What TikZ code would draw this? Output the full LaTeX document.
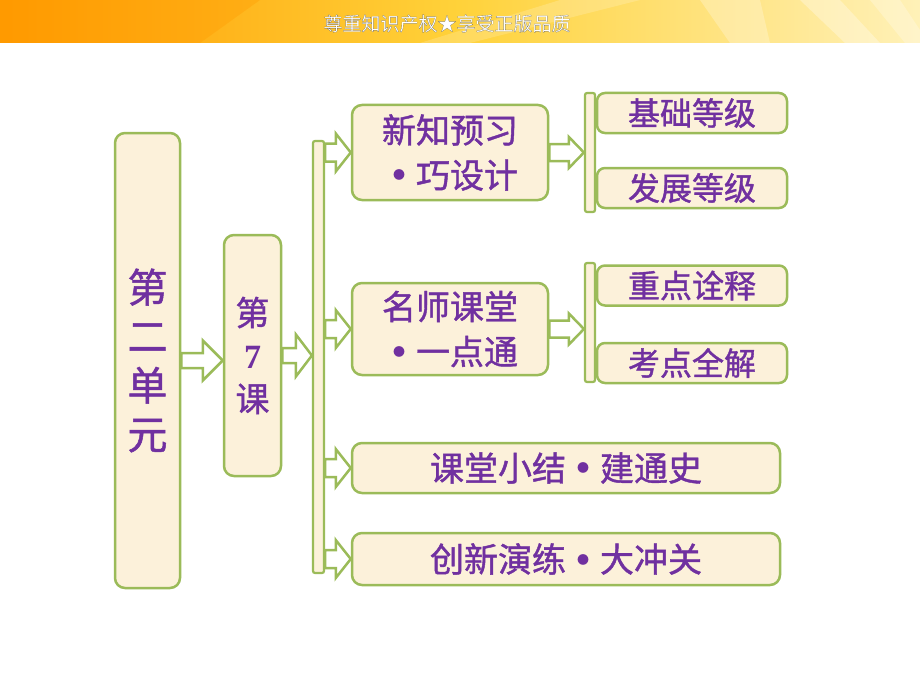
\documentclass[tikz,border=0pt]{standalone}
\usepackage{fontspec}
\usetikzlibrary{calc}
\newfontfamily\cjk[FakeBold=1.2]{Noto Sans CJK SC}
\newfontfamily\cjkplain{Noto Sans CJK SC}
\newfontfamily\cjkb[FakeBold=0.7]{Noto Sans CJK SC}
\newfontfamily\numfont{Liberation Serif}
\definecolor{boxgreen}{HTML}{9BBB59}
\definecolor{boxfill}{HTML}{FCF1DA}
\definecolor{txtpurple}{HTML}{7030A0}
\definecolor{bannerL}{HTML}{FF9A00}
\definecolor{bannerM}{HTML}{FFD23A}
\definecolor{bannerR}{HTML}{FFF1B8}
\newcommand{\bdot}{\makebox[1em]{\raisebox{8pt}{\cjkplain\fontsize{12}{12}\selectfont ●}}}
\tikzset{
  boxnode/.style={draw=boxgreen, line width=2.5pt, fill=boxfill, rounded corners=10pt,
    inner sep=0pt, text=txtpurple, align=center, font=\cjk\fontsize{34}{45}\selectfont},
  smallbox/.style={boxnode, rounded corners=8pt, minimum width=190pt, minimum height=40pt,
    font=\cjk\fontsize{32}{38}\selectfont},
  barnode/.style={draw=boxgreen, line width=2.2pt, fill=boxfill, rounded corners=2pt,
    inner sep=0pt},
  hollowarrow/.style={draw=boxgreen, line width=2.5pt, fill=white, line join=miter}
}
% #1 start, #2 tip, #3 shaft half, #4 head half, #5 head length
\newcommand{\blockarr}[5]{%
  \draw[hollowarrow] let \p1=(#1), \p2=(#2) in
    (\x1,\y1+#3pt) -- (\x2-#5pt,\y1+#3pt) -- (\x2-#5pt,\y1+#4pt) -- (\x2,\y1)
    -- (\x2-#5pt,\y1-#4pt) -- (\x2-#5pt,\y1-#3pt) -- (\x1,\y1-#3pt) -- cycle;}
\begin{document}
\begin{tikzpicture}[x=1pt,y=-1pt]
\useasboundingbox (0,0) rectangle (920,690);
\fill[white] (0,0) rectangle (920,690);
% banner
\shade[left color=bannerL, right color=bannerR, middle color=bannerM] (0,0) rectangle (920,43);
\fill[white,opacity=0.18] (560,0) -- (640,0) -- (470,43) -- (420,43) -- cycle;
\fill[white,opacity=0.25] (700,0) -- (760,0) -- (770,43) -- (730,43) -- cycle;
\fill[white,opacity=0.3] (800,0) -- (840,0) -- (880,43) -- (845,43) -- cycle;
\fill[white,opacity=0.25] (870,0) -- (900,0) -- (920,30) -- (920,43) -- (905,43) -- cycle;
\fill[bannerL,opacity=0.35] (0,0) -- (260,0) -- (200,43) -- (0,43) -- cycle;
\node[inner sep=0pt, font=\cjkb\fontsize{19}{19}\selectfont] (banner) at (447,23.5)
  {\color{white}\special{pdf:code 0.35 G}尊重知识产权★享受正版品质};
% main nodes
\node[boxnode, minimum width=65pt, minimum height=455pt, font=\cjk\fontsize{40}{49}\selectfont]
  (unit) at (147.5,360.5) {第\\二\\单\\元};
\node[boxnode, minimum width=57pt, minimum height=241pt, font=\cjk\fontsize{34}{43}\selectfont]
  (lesson) at (252.5,355.5) {第\\{\numfont\bfseries 7}\\课};
\node[barnode, minimum width=11pt, minimum height=432pt] (mainbar) at (318.5,357) {};
\node[boxnode, minimum width=196pt, minimum height=95pt] (b1) at (450,152.5) {新知预习\\\bdot 巧设计};
\node[boxnode, minimum width=196pt, minimum height=92pt] (b2) at (450,329) {名师课堂\\\bdot 一点通};
\node[boxnode, minimum width=428pt, minimum height=50pt] (b3) at (566,468) {课堂小结\bdot 建通史};
\node[boxnode, minimum width=428pt, minimum height=52pt] (b4) at (566,559) {创新演练\bdot 大冲关};
\node[barnode, minimum width=10pt, minimum height=119pt] (sb1) at (590,152.5) {};
\node[barnode, minimum width=10pt, minimum height=119pt] (sb2) at (590,322.5) {};
\node[smallbox] (s1) at (692,113) {基础等级};
\node[smallbox] (s2) at (692,188) {发展等级};
\node[smallbox] (s3) at (692,285.5) {重点诠释};
\node[smallbox] (s4) at (692,363) {考点全解};
% arrows
\blockarr{unit.east}{lesson.west}{7.5}{20}{20}
\blockarr{lesson.east}{mainbar.west}{7.5}{21}{16}
\blockarr{mainbar.east |- b1.west}{b1.west}{9}{19}{15}
\blockarr{mainbar.east |- b2.west}{b2.west}{9}{19}{15}
\blockarr{mainbar.east |- b3.west}{b3.west}{9}{19}{15}
\blockarr{mainbar.east |- b4.west}{b4.west}{9}{19}{15}
\blockarr{b1.east}{sb1.west}{8.5}{15.5}{15}
\blockarr{b2.east}{sb2.west}{8.5}{15.5}{15}
\end{tikzpicture}
\end{document}
